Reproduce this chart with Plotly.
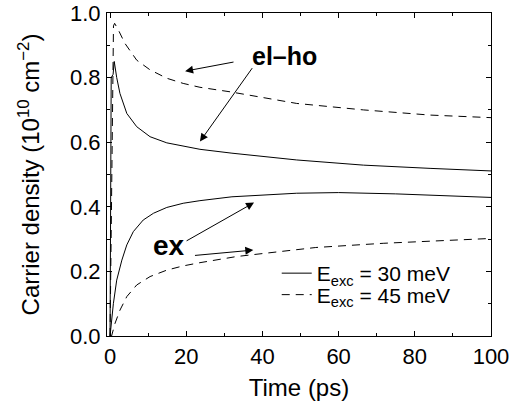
import plotly.graph_objects as go

# Time axis values (ps) and carrier densities (10^10 cm^-2)
t_eh_30 = [0, 0.3, 0.8, 1.1, 1.75, 2.6, 4.4, 7, 10.5, 14.9, 23.6, 32, 49, 66.5, 84, 100]
v_eh_30 = [0, 0.80, 0.81, 0.85, 0.80, 0.751, 0.689, 0.648, 0.617, 0.598, 0.578, 0.566, 0.545, 0.529, 0.519, 0.511]

t_eh_45 = [0, 0.9, 1.2, 2.2, 3.9, 7, 10.5, 14.9, 19.2, 23.6, 31.5, 49, 66.5, 84, 100]
v_eh_45 = [0, 0.96, 0.968, 0.947, 0.906, 0.854, 0.824, 0.798, 0.782, 0.770, 0.756, 0.720, 0.700, 0.684, 0.676]

t_ex_30 = [0, 0.87, 1.75, 3.1, 4.4, 6.1, 8.7, 11.4, 14.9, 19.2, 23.6, 32, 49, 60, 75, 100]
v_ex_30 = [0, 0.10, 0.173, 0.235, 0.282, 0.323, 0.359, 0.380, 0.398, 0.411, 0.419, 0.431, 0.442, 0.444, 0.440, 0.429]

t_ex_45 = [0, 0.4, 1.3, 2.6, 4.4, 7, 10.5, 14.9, 19.2, 23.6, 33.2, 54, 71.7, 89, 100]
v_ex_45 = [0, 0, 0.039, 0.08, 0.122, 0.158, 0.184, 0.204, 0.217, 0.227, 0.246, 0.274, 0.287, 0.297, 0.302]

x_ticks = [0, 20, 40, 60, 80, 100]
y_ticks = [0.0, 0.2, 0.4, 0.6, 0.8, 1.0]
y_tick_labels = ["0.0", "0.2", "0.4", "0.6", "0.8", "1.0"]

legend_labels = ["E<sub>exc</sub> = 30 meV", "E<sub>exc</sub> = 45 meV"]

FONT = "Liberation Sans, Arial, Helvetica, sans-serif"
DASH = "8px,6px"

fig = go.Figure()
fig.add_trace(go.Scatter(x=t_eh_30, y=v_eh_30, mode="lines",
                         line=dict(color="black", width=1),
                         name=legend_labels[0], legend="legend"))
fig.add_trace(go.Scatter(x=t_eh_45, y=v_eh_45, mode="lines",
                         line=dict(color="black", width=1, dash=DASH),
                         name=legend_labels[1], legend="legend2"))
fig.add_trace(go.Scatter(x=t_ex_30, y=v_ex_30, mode="lines",
                         line=dict(color="black", width=1),
                         showlegend=False))
fig.add_trace(go.Scatter(x=t_ex_45, y=v_ex_45, mode="lines",
                         line=dict(color="black", width=1, dash=DASH),
                         showlegend=False))

arrow_style = dict(showarrow=True, arrowhead=2, arrowsize=1.6, arrowwidth=1,
                   arrowcolor="black", axref="x", ayref="y", xref="x", yref="y",
                   standoff=0, startstandoff=0, text="")

annotations = [
    dict(x=19.7, y=0.820, ax=32.8, ay=0.849, **arrow_style),
    dict(x=23.6, y=0.602, ax=37.6, ay=0.834, **arrow_style),
    dict(x=37.8, y=0.413, ax=19.7, ay=0.292, **arrow_style),
    dict(x=37.6, y=0.266, ax=21.9, ay=0.249, **arrow_style),
    dict(x=45.8, y=0.868, xref="x", yref="y", text="<b>el–ho</b>", showarrow=False,
         font=dict(size=25, color="black", family=FONT)),
    dict(x=15.4, y=0.281, xref="x", yref="y", text="<b>ex</b>", showarrow=False,
         font=dict(size=28, color="black", family=FONT)),
]

legend_common = dict(xanchor="left", yanchor="middle", bgcolor="rgba(0,0,0,0)",
                     borderwidth=0, font=dict(size=21, family=FONT, color="black"))

fig.update_layout(
    width=516, height=408,
    margin=dict(l=107, r=25, t=13, b=72, autoexpand=False),
    paper_bgcolor="white", plot_bgcolor="white",
    font=dict(family=FONT, size=22, color="black"),
    annotations=annotations,
    showlegend=True,
    legend=dict(x=0.442, y=0.1935, **legend_common),
    legend2=dict(x=0.442, y=0.127, **legend_common),
)
fig.update_xaxes(
    range=[-0.8, 100], tickvals=x_ticks, ticktext=[str(v) for v in x_ticks],
    showline=True, linecolor="black", linewidth=1, mirror="allticks",
    ticks="inside", ticklen=5, tickcolor="black", showgrid=False, zeroline=False,
    minor=dict(ticks="inside", dtick=10, tick0=0, ticklen=3, tickcolor="black", showgrid=False),
    title=dict(text="Time (ps)", font=dict(size=24, family=FONT), standoff=10),
    tickfont=dict(size=22, family=FONT), ticklabelstandoff=1, automargin=False,
)
fig.update_yaxes(
    range=[0, 1.0], tickvals=y_ticks, ticktext=y_tick_labels,
    showline=True, linecolor="black", linewidth=1, mirror="allticks",
    ticks="inside", ticklen=5, tickcolor="black", showgrid=False, zeroline=False,
    minor=dict(ticks="inside", dtick=0.1, tick0=0, ticklen=3, tickcolor="black", showgrid=False),
    title=dict(text="Carrier density (10<sup>10</sup> cm<sup>−2</sup>)", font=dict(size=24, family=FONT), standoff=23),
    tickfont=dict(size=22, family=FONT), ticklabelstandoff=1, automargin=False,
)

fig.write_html("out.html", config={"displayModeBar": False},
               post_script="document.body.style.margin='0';")
